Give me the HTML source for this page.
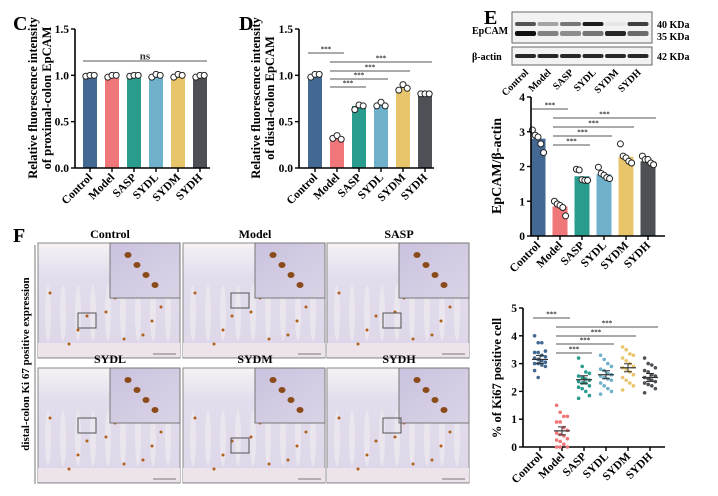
<!DOCTYPE html>
<html><head><meta charset="utf-8"><style>
body{margin:0;background:#fff;}
svg{display:block;font-family:"Liberation Serif",serif;font-weight:bold;}
</style></head><body>
<svg id="fig" width="718" height="496" viewBox="0 0 718 496" xmlns="http://www.w3.org/2000/svg">
<defs>
<linearGradient id="tis" x1="0" y1="0" x2="0" y2="1"><stop offset="0" stop-color="#f6f2f4"/><stop offset="0.3" stop-color="#e2dcec"/><stop offset="1" stop-color="#dcd6e8"/></linearGradient>
<linearGradient id="ins" x1="0" y1="0" x2="1" y2="1"><stop offset="0" stop-color="#cbc3df"/><stop offset="1" stop-color="#dad3e6"/></linearGradient>
</defs>
<g id="root"></g>
</svg>
<script>
const cats = ["Control","Model","SASP","SYDL","SYDM","SYDH"];
const colors = ["#436891","#ef7679","#2a9c8e","#6fb0cb","#e8c46a","#4d5054"];
const cMeans = [1.0,1.0,1.0,1.0,1.0,1.0];
const cPts = [[0.99,1.0,1.0],[0.98,1.0,1.0],[0.99,1.0,1.0],[0.98,1.01,1.0],[0.98,1.01,1.0],[0.98,1.0,1.0]];
const dMeans = [1.0,0.33,0.67,0.68,0.86,0.8];
const dPts = [[0.98,1.01,1.01],[0.32,0.35,0.31],[0.63,0.68,0.67],[0.67,0.71,0.67],[0.84,0.9,0.86],[0.8,0.8,0.8]];
const eMeans = [2.8,0.85,1.72,1.78,2.28,2.15];
const ePts = [[3.05,2.9,2.85,2.65,2.4],[1.0,0.92,0.88,0.82,0.58],[1.92,1.9,1.62,1.6,1.6],[1.98,1.8,1.75,1.68,1.65],[2.65,2.3,2.25,2.15,2.1],[2.3,2.2,2.2,2.1,2.05]];
const kMeans = [3.15,0.58,2.42,2.6,2.85,2.5];
const kPts = [
[4.0,3.75,3.75,3.45,3.4,3.4,3.3,3.25,3.2,3.15,3.1,3.05,3.0,3.0,2.95,2.9,2.75,2.5],
[1.5,1.25,1.1,1.1,0.9,0.9,0.7,0.6,0.5,0.45,0.4,0.3,0.25,0.2,0.1,0.0,0.0,0.0],
[3.2,2.9,2.7,2.65,2.55,2.5,2.45,2.4,2.35,2.3,2.3,2.2,2.15,2.1,2.0,1.85,1.75],
[3.3,3.15,3.0,2.9,2.8,2.75,2.65,2.6,2.55,2.5,2.45,2.4,2.3,2.2,2.1,2.0,1.9],
[3.6,3.5,3.35,3.3,3.2,3.1,3.0,2.9,2.85,2.8,2.7,2.6,2.5,2.4,2.3,2.2,2.05],
[3.2,3.0,2.95,2.85,2.75,2.7,2.6,2.55,2.5,2.45,2.4,2.35,2.3,2.25,2.2,2.1,1.95]];
const ticks15 = ["0.0","0.5","1.0","1.5"];
const ticks4 = ["0","1","2","3","4"];
const ticks5 = ["0","1","2","3","4","5"];

const NS="http://www.w3.org/2000/svg";
const root=document.getElementById('root');
function el(tag,attrs,parent,text){const e=document.createElementNS(NS,tag);for(const k in attrs)e.setAttribute(k,attrs[k]);if(text!==undefined)e.textContent=text;(parent||root).appendChild(e);return e;}

function axes(g,ax,y0,y1,xEnd,max,ticks,x0,step){
  const sy=v=>y0-(v/max)*(y0-y1);
  const yl=el('line',{x1:ax,y1:y1,x2:ax,y2:y0+0.5,stroke:'#000','stroke-width':1.6},g);
  
  const xl=el('line',{x1:ax,y1:y0,x2:xEnd,y2:y0,stroke:'#000','stroke-width':1.6},g);
  
  ticks.forEach((t,i)=>{const v=i*max/(ticks.length-1);const y=sy(v);
    el('line',{x1:ax-4,y1:y,x2:ax,y2:y,stroke:'#000','stroke-width':1.4},g);
    const tl=el('text',{x:ax-6,y:y+4,'font-size':11.5,'text-anchor':'end'},g,t);
    });
  cats.forEach((c,i)=>{const x=x0+i*step;
    el('line',{x1:x,y1:y0,x2:x,y2:y0+4,stroke:'#000','stroke-width':1.4},g);
    const tl=el('text',{x:x+3,y:y0+10,'font-size':11.5,'text-anchor':'end',transform:`rotate(-45 ${x+3} ${y0+10})`},g,c);
    });
  return sy;
}
function ytitle(g,x,y,lines,fs){lines.forEach((l,i)=>{const t=el('text',{x:x+i*14,y:y,'font-size':fs||12,'text-anchor':'middle',transform:`rotate(-90 ${x+i*14} ${y})`},g,l);
  });}
function sig(g,x1,x2,y,label,col){const l=el('line',{x1:x1,y1:y,x2:x2,y2:y,stroke:col||'#555','stroke-width':1},g);
  
  const t=el('text',{x:(x1+x2)/2,y:y-1.5,'font-size':label==='ns'?11:7,'text-anchor':'middle',fill:'#333'},g,label);
  }
function letter(x,y,s){const t=el('text',{x:x,y:y,'font-size':20},root,s);}

function barChart(name,ax,y0,y1,xEnd,max,ticks,x0,step,bw,means,pts,r){
  const g=el('g',{});
  const sy=v=>y0-(v/max)*(y0-y1);
  means.forEach((m,i)=>{const x=x0+i*step;
    const b=el('rect',{x:x-bw/2,y:sy(m),width:bw,height:y0-sy(m),fill:colors[i]},g);
    
    const n=pts[i].length;
    pts[i].forEach((v,j)=>{const off=(j-(n-1)/2)*(n>3?2.8:4.2);
      const p=el('circle',{cx:x+off,cy:sy(v),r:r,fill:'#fff',stroke:'#222','stroke-width':1},g);
      });
  });
  axes(g,ax,y0,y1,xEnd,max,ticks,x0,step);
  return {g,sy};
}

// Panel C
letter(13,30,'C');
const C=barChart('chart-c',75,168,29,210,1.5,ticks15,90,22,14,cMeans,cPts,3);
sig(C.g,83,207,61,'ns','#555');
ytitle(C.g,37,98,['Relative fluorescence intensity','of proximal-colon EpCAM'],12.5);

// Panel D
letter(239,30,'D');
const D=barChart('chart-d',299,168,29,434,1.5,ticks15,315,22,14,dMeans,dPts,3);
sig(D.g,308,344,53,'***');
[[2,87],[3,79],[4,71],[5,62]].forEach(([i,y])=>sig(D.g,330,315+i*22+7,y,'***'));
ytitle(D.g,260,98,['Relative fluorescence intensity','of distal-colon EpCAM'],12.5);

// Panel E blot
letter(484,24,'E');
const wb=el('g',{});
el('rect',{x:512,y:12,width:140,height:31,fill:'#f2f2f2',stroke:'#666','stroke-width':1},wb);
el('rect',{x:512,y:47,width:140,height:18,fill:'#f2f2f2',stroke:'#666','stroke-width':1},wb);
const bandTop=[0.7,0.35,0.55,0.95,0.05,0.8],bandBot=[1,0.5,0.45,0.55,0.9,0.6];
for(let i=0;i<6;i++){const x=515+i*22.5;
  el('rect',{x:x,y:22,width:21,height:4,rx:2,fill:'#111','fill-opacity':bandTop[i]},wb);
  el('rect',{x:x,y:31,width:21,height:5,rx:2,fill:'#111','fill-opacity':bandBot[i]},wb);
  el('rect',{x:x,y:54,width:21,height:4,rx:2,fill:'#111','fill-opacity':0.9},wb);
  const t=el('text',{x:x+14,y:73,'font-size':10,'text-anchor':'end',transform:`rotate(-45 ${x+14} 73)`},wb,cats[i]);
  }
[['EpCAM',472,34],['β-actin',472,60]].forEach(([s,x,y])=>{const t=el('text',{x:x,y:y,'font-size':10},wb,s);});
[['40 KDa',657,28],['35 KDa',657,40],['42 KDa',657,60]].forEach(([s,x,y])=>{const t=el('text',{x:x,y:y,'font-size':10},wb,s);});

// Panel E bars
const E=barChart('chart-e',531,236,97,665,4,ticks4,538,22,15,eMeans,ePts,3);
sig(E.g,532,568,109,'***');
[[2,145],[3,136],[4,127],[5,118]].forEach(([i,y])=>sig(E.g,553,538+i*22+8,y,'***'));
ytitle(E.g,501,166,['EpCAM/β-actin'],14);

// Panel F images
letter(13,242,'F');
const imgs=el('g',{});
const pos=[[38,243],[183,243],[327,243],[38,368],[183,368],[327,368]];
pos.forEach(([x,y],i)=>{
  const t=el('text',{x:x+72,y:y-5,'font-size':12,'text-anchor':'middle'},imgs,cats[i]);
  
  const r=el('rect',{x:x,y:y,width:142,height:115,fill:'url(#tis)',stroke:'#888','stroke-width':1},imgs);
  
  for(let k=0;k<9;k++)el('ellipse',{cx:x+10+k*15,cy:y+70,rx:3,ry:28,fill:'#ebe5ee'},imgs);
  el('rect',{x:x,y:y+100,width:142,height:14,fill:'#ece4ea'},imgs);
  for(let k=0;k<10;k++)el('circle',{cx:x+12+((k*37)%120),cy:y+50+((k*23)%55),r:1.5,fill:'#b0601a'},imgs);
  el('rect',{x:x+72,y:y,width:70,height:55,fill:'url(#ins)',stroke:'#777','stroke-width':1},imgs);
  for(let k=0;k<4;k++)el('ellipse',{cx:x+90+k*9,cy:y+12+k*10,rx:3.5,ry:3,fill:'#8a4a1a'},imgs);
  el('rect',{x:x+40+(i%3)*8,y:y+70-(i%2)*20,width:18,height:15,fill:'none',stroke:'#555','stroke-width':1},imgs);
  el('line',{x1:x+115,y1:y+111,x2:x+138,y2:y+111,stroke:'#555','stroke-width':0.8},imgs);
});
el('line',{x1:35,y1:245,x2:35,y2:484,stroke:'#777','stroke-width':1},imgs);
ytitle(imgs,29,364,['distal-colon Ki 67 positive expression'],11);

// Panel Ki67 dot plot
const K=el('g',{});
const ksy=axes(K,523,447,308,665,5,ticks5,540,22);
kPts.forEach((arr,i)=>{const x=540+i*22;
  arr.forEach((v,j)=>{const off=((j%4)-1.5)*3.6;
    const p=el('circle',{cx:x+off,cy:ksy(v),r:1.8,fill:colors[i]},K);
    });
  const m=el('line',{x1:x-8,y1:ksy(kMeans[i]),x2:x+8,y2:ksy(kMeans[i]),stroke:'#333','stroke-width':1.2},K);
  
  el('line',{x1:x,y1:ksy(kMeans[i])-4,x2:x,y2:ksy(kMeans[i])+4,stroke:'#333','stroke-width':1},K);
  el('line',{x1:x-4,y1:ksy(kMeans[i])-4,x2:x+4,y2:ksy(kMeans[i])-4,stroke:'#333','stroke-width':1},K);
  el('line',{x1:x-4,y1:ksy(kMeans[i])+4,x2:x+4,y2:ksy(kMeans[i])+4,stroke:'#333','stroke-width':1},K);
});
sig(K,533,570,318,'***');
[[2,353],[3,344],[4,336],[5,327]].forEach(([i,y])=>sig(K,556,540+i*22+8,y,'***'));
ytitle(K,501,378,['% of Ki67 positive cell'],12.5);
</script>
</body></html>
